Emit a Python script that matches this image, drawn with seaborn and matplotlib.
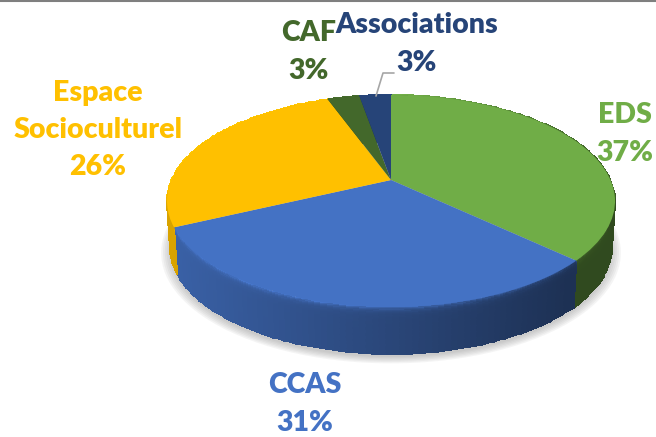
#!/usr/bin/python3
# coding: utf-8
import numpy as np
import matplotlib
matplotlib.use("Agg")
import matplotlib.pyplot as plt
from matplotlib.transforms import Transform
import seaborn as sns

categories = ["EDS", "CCAS", "Espace\nSocioculturel", "CAF", "Associations"]
values = [37.0, 31.0, 26.45, 2.8, 2.75]
colors = ["#70AD47", "#4472C4", "#FFC000", "#43682B", "#264478"]

sns.set_theme(style="white")
plt.rcParams["font.family"] = ["Lato", "DejaVu Sans"]
palette = sns.color_palette(colors)

# pixel geometry of the tilted disc
CX, CY = 391, 201
A, B, C, K = 219.6, 106, 21, 0.198
DEPTH = 47


def project(u, v, drop=0):
    den = 1 + K * v
    taper = 1 - drop * 0.0003
    return CX + A * taper * u / den, CY - (B * v + C) / den + drop


class Tilt(Transform):
    input_dims = output_dims = 2

    def __init__(self, drop=0):
        super().__init__()
        self.drop = drop

    def transform_non_affine(self, values):
        x, y = project(values[:, 0], values[:, 1], self.drop)
        return np.column_stack([x, y])


fig = plt.figure(figsize=(6.56, 4.37), dpi=100)
ax = fig.add_axes([0, 0, 1, 1])

# soft shadow under the disc
for r in [1.04, 1.032, 1.024, 1.016, 1.008, 1.0]:
    wedges, _ = ax.pie([1], colors=["#707070"], radius=r,
                       wedgeprops={"alpha": 0.07, "linewidth": 0, "zorder": 0.5})
    wedges[0].set_transform(Tilt(DEPTH + 3) + ax.transData)

# side wall, one mesh per slice, shaded left to right
edges = np.cumsum([0] + values) / sum(values) * 2 * np.pi
d = np.linspace(0, DEPTH, 40)
for i in range(len(values)):
    t = np.linspace(edges[i], edges[i + 1], 80)
    T, D = np.meshgrid(t, d)
    X, Y = project(np.sin(T), np.cos(T), D)
    xm = (X[:-1, :-1] + X[1:, 1:]) / 2
    dm = (D[:-1, :-1] + D[1:, 1:]) / 2
    wall = np.clip(0.85 - (xm - 170) * 0.43 / 405, 0.43, 0.88)
    rim = np.clip(1.12 - (xm - 400) * 0.5 / 190, 0.5, 1.12)
    shade = wall + (rim - wall) * np.exp(-dm / 2.5)
    rgb = np.clip(np.array(palette[i])[None, None, :] * shade[:, :, None], 0, 1)
    ax.pcolormesh(X, Y, rgb, shading="flat", edgecolors="face", linewidth=0.2, zorder=1)

# top face
wedges, _ = ax.pie(values, colors=palette, startangle=90, counterclock=False,
                   wedgeprops={"linewidth": 0, "zorder": 2})
for w in wedges:
    w.set_transform(Tilt() + ax.transData)

# labels
label_xy = [(625, 134), (305, 404), (98, 130), (309, 52), (417, 44)]
for name, v, col, (x, y) in zip(categories, values, palette, label_xy):
    ax.text(x, y, f"{name}\n{round(v)}%", color=col, ha="center", va="center",
            fontsize=20.5, fontweight="heavy", linespacing=1.53, zorder=3)

# leader line for Associations
ax.plot([376, 383, 394], [96, 73, 73], color="#A6A6A6", lw=1.2, zorder=3)
# grey line along the top of the picture
ax.axhline(0.5, color="#7F7F7F", lw=1.5, zorder=3)

ax.set_aspect("auto")
ax.set_xlim(0, 656)
ax.set_ylim(437, 0)
ax.axis("off")
fig.savefig("out.png", dpi=100, facecolor="white")
